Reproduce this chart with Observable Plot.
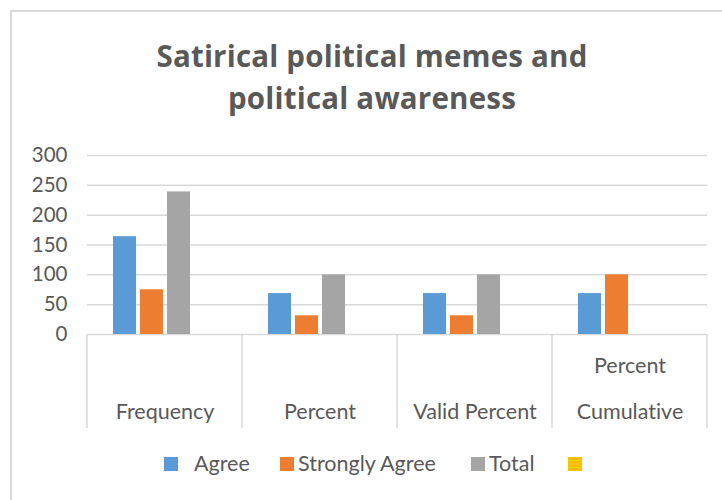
<!DOCTYPE html>
<html>
<head>
<meta charset="utf-8">
<script src="https://cdn.jsdelivr.net/npm/d3@7"></script>
<script src="https://cdn.jsdelivr.net/npm/@observablehq/plot@0.6"></script>
<style>
  html, body { margin: 0; padding: 0; background: #fff; }
  #wrap { position: relative; width: 722px; height: 500px; overflow: hidden; font-family: Lato, "Open Sans", sans-serif; color: #595959; font-variant-ligatures: none; }
  #wrap svg text { font-variant-ligatures: none; }
  #border { position: absolute; left: 10px; top: 10px; width: 760px; height: 540px; border-top: 2px solid #d9d9d9; border-left: 2px solid #d9d9d9; box-sizing: border-box; }
  #title { position: absolute; left: 0; top: 35px; width: 744px; text-align: center; font-family: "Open Sans", Lato, sans-serif; font-weight: 700; font-size: 29.5px; line-height: 42px; letter-spacing: 0.2px; }
  #chart { position: absolute; left: 0; top: 0; }
  #legend { position: absolute; top: 450px; left: 0; width: 722px; height: 28px; font-size: 21.5px; white-space: nowrap; }
  #legend .sw { position: absolute; top: 7px; width: 14px; height: 14px; }
  #legend .lbl { position: absolute; top: 0; line-height: 26px; }
</style>
</head>
<body>
<div id="wrap">
  <div id="border"></div>
  <div id="chart"></div>
  <div id="title">Satirical political memes and<br>political awareness</div>
  <div id="legend"></div>
</div>
<script>
// Categories along the horizontal axis and the labels drawn under them
const categories = ["Frequency", "Percent", "Valid Percent", "Cumulative Percent"];
const categoryLabels = ["Frequency", "Percent", "Valid Percent", "Percent\nCumulative"];

// Series (the fourth series is empty and unnamed)
const seriesNames = ["Agree", "Strongly Agree", "Total", ""];
const seriesColors = ["#5b9bd5", "#ed7d31", "#a5a5a5", "#ffc000"];

// Values per category, in category order
const agree = [164, 68.6, 68.6, 68.6];
const stronglyAgree = [75, 31.4, 31.4, 100];
const total = [239, 100, 100, null];

// Y axis ticks
const yTicks = [0, 50, 100, 150, 200, 250, 300];

const seriesValues = [agree, stronglyAgree, total];
const rows = categories.flatMap((c, i) =>
  seriesValues
    .map((vals, s) => ({category: c, series: seriesNames[s], value: vals[i]}))
    .filter(d => d.value != null)
);

const chart = Plot.plot({
  width: 722,
  height: 500,
  marginTop: 155,
  marginBottom: 166,
  marginLeft: 86,
  marginRight: 15,
  style: {fontFamily: "Lato, 'Open Sans', sans-serif", fontSize: "20.5px", color: "#595959", background: "transparent", overflow: "visible"},
  fx: {domain: categories, padding: 0, axis: null},
  x: {domain: seriesNames, paddingInner: 0.15, paddingOuter: 0.9, axis: null},
  y: {domain: [0, 300], ticks: yTicks, tickSize: 0, tickPadding: 20, label: null, tickFormat: d => String(d)},
  color: {domain: seriesNames, range: seriesColors},
  marks: [
    Plot.ruleY(yTicks.filter(t => t > 0), {stroke: "#d9d9d9", strokeWidth: 1.5}),
    Plot.ruleY([0], {stroke: "#d9d9d9", strokeWidth: 1.5}),
    Plot.barY(rows, {fx: "category", x: "series", y: "value", fill: "series"}),
    Plot.text(categories, {
      fx: d => d,
      text: (d, i) => categoryLabels[i],
      frameAnchor: "bottom",
      lineAnchor: "bottom",
      lineHeight: 2.1,
      dy: 84,
      fontSize: 21.5,
      fill: "#595959"
    })
  ]
});
document.getElementById("chart").appendChild(chart);

// Vertical separators between categories, hanging below the baseline
const fx = chart.scale("fx");
const y0 = chart.scale("y").apply(0);
const edges = categories.map(c => fx.apply(c)).concat([fx.apply(categories[categories.length - 1]) + fx.bandwidth]);
d3.select(chart).append("g")
  .attr("stroke", "#d9d9d9")
  .attr("stroke-width", 1.5)
  .selectAll("line")
  .data(edges)
  .join("line")
  .attr("x1", d => d).attr("x2", d => d)
  .attr("y1", y0).attr("y2", y0 + 94);

// Legend: swatch and label left edges for each entry
const legendSwatchX = [164, 280, 471, 568];
const legendLabelX = [194, 298, 489, null];
const legend = d3.select("#legend");
seriesNames.forEach((name, i) => {
  legend.append("span").attr("class", "sw")
    .style("left", legendSwatchX[i] + "px")
    .style("background", seriesColors[i]);
  if (name) legend.append("span").attr("class", "lbl")
    .style("left", legendLabelX[i] + "px")
    .text(name);
});
</script>
</body>
</html>
